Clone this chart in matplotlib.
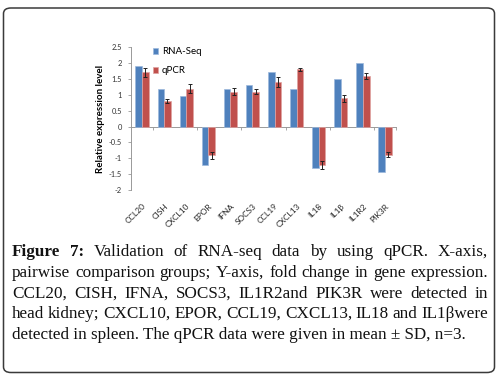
import matplotlib
matplotlib.use('Agg')
import matplotlib.pyplot as plt
import numpy as np
from matplotlib.patches import FancyBboxPatch

genes = ['CCL20', 'CISH', 'CXCL10', 'EPOR', 'IFNA', 'SOCS3', 'CCL19', 'CXCL13',
         'IL18', 'IL1β', 'IL1R2', 'PIK3R']
rna_seq = [1.9, 1.2, 0.98, -1.2, 1.19, 1.3, 1.71, 1.19, -1.31, 1.5, 2.0, -1.42]
qpcr = [1.71, 0.8, 1.19, -0.91, 1.1, 1.1, 1.4, 1.8, -1.21, 0.89, 1.6, -0.89]
qpcr_sd = [0.15, 0.06, 0.14, 0.12, 0.11, 0.08, 0.15, 0.06, 0.13, 0.12, 0.1, 0.08]
yticks = [-2, -1.5, -1, -0.5, 0, 0.5, 1, 1.5, 2, 2.5]
ylabel = 'Relative expression level'
series_names = ['RNA-Seq', 'qPCR']

caption_lines = [
    [('Figure', True), ('7:', True), ('Validation', False), ('of', False), ('RNA-seq', False),
     ('data', False), ('by', False), ('using', False), ('qPCR.', False), ('X-axis,', False)],
    [(w, False) for w in 'pairwise comparison groups; Y-axis, fold change in gene expression.'.split()],
    [(w, False) for w in 'CCL20, CISH, IFNA, SOCS3, IL1R2and PIK3R were detected in'.split()],
    [(w, False) for w in 'head kidney; CXCL10, EPOR, CCL19, CXCL13, IL18 and IL1βwere'.split()],
]
caption_last = 'detected in spleen. The qPCR data were given in mean ± SD, n=3.'

W, H = 496, 375
fig = plt.figure(figsize=(W / 100, H / 100), dpi=100)
fig.patch.set_facecolor('white')

# rounded outer border
border = FancyBboxPatch((3.5 / W, 2.5 / H), (491 / W), (364.5 / H),
                        boxstyle='round,pad=0,rounding_size=0.015',
                        transform=fig.transFigure, fill=False,
                        edgecolor='#3a3a3a', linewidth=1.1)
fig.add_artist(border)

# axes: x 131..396 px, y top 47.3 px (2.5) bottom 190 px (-2)
ax = fig.add_axes([131 / W, 1 - 190 / H, 265 / W, (190 - 47.3) / H])
x = np.arange(len(genes))
bw = 0.3
blue = '#4F81BD'
red = '#C0504D'
ax.bar(x - bw / 2, rna_seq, bw, color=blue, edgecolor='#9DB8DC', linewidth=0.5,
       label=series_names[0], zorder=3)
ax.bar(x + bw / 2, qpcr, bw, color=red, edgecolor='#E0A3A1', linewidth=0.5,
       label=series_names[1], zorder=3)
ax.errorbar(x + bw / 2, qpcr, yerr=qpcr_sd, fmt='none', ecolor='#222222',
            elinewidth=0.7, capsize=1.6, capthick=0.7, zorder=4)

ax.set_xlim(-0.5, len(genes) - 0.5)
ax.set_ylim(-2, 2.5)
ax.set_yticks(yticks)
ax.set_yticklabels([f'{v:g}' for v in yticks], fontsize=5.4, color='#333333',
                   family='Lato')
ax.tick_params(axis='y', direction='out', length=2.5, width=0.6, color='#999999', pad=4)

ax.set_xticks(x)
ax.set_xticklabels(genes, rotation=45, ha='right', rotation_mode='anchor',
                   fontsize=6, color='#222222', family='Lato')
ax.tick_params(axis='x', length=0, pad=9)

for s in ['top', 'right', 'bottom']:
    ax.spines[s].set_visible(False)
ax.spines['left'].set_color('#999999')
ax.spines['left'].set_linewidth(0.7)

# zero axis line with tick marks at category boundaries
sec = ax.secondary_xaxis(2 / 4.5)
sec.set_xticks([0.5, 2.5, 4.5, 6.5, 8.5, 10.5, 11.5])
sec.set_xticklabels([])
sec.tick_params(direction='out', length=2.5, width=0.6, color='#999999')
sec.spines['bottom'].set_color('#999999')
sec.spines['bottom'].set_linewidth(0.7)

ax.set_ylabel(ylabel, fontsize=7, fontweight='bold', family='Lato', labelpad=3)

ax.legend(loc='upper left', bbox_to_anchor=(0.05, 1.06), frameon=False,
          prop={'family': 'Lato', 'size': 7}, handlelength=0.5, handleheight=0.5,
          labelspacing=1.0, handletextpad=0.4)

# caption, justified
fig.canvas.draw()
renderer = fig.canvas.get_renderer()
cap_font = 'Liberation Serif'
fs = 12.3
left_px, right_px = 12, 488
baselines = [256, 277, 297.5, 318, 339]

def px_to_fig(xp, yp):
    return xp / W, 1 - yp / H

for li, words in enumerate(caption_lines):
    texts = []
    for w, b in words:
        t = fig.text(0, 0, w, fontsize=fs, family=cap_font,
                     fontweight='bold' if b else 'normal', va='baseline', ha='left',
                     color='#111111')
        texts.append(t)
    widths = [t.get_window_extent(renderer).width for t in texts]
    gap = (right_px - left_px - sum(widths)) / (len(texts) - 1)
    xp = left_px
    for t, wd in zip(texts, widths):
        t.set_position(px_to_fig(xp, baselines[li]))
        xp += wd + gap

fig.text(*px_to_fig(left_px, baselines[4]), caption_last, fontsize=fs, family=cap_font,
         va='baseline', ha='left', color='#111111')

fig.savefig('out.png', dpi=100, facecolor='white')
